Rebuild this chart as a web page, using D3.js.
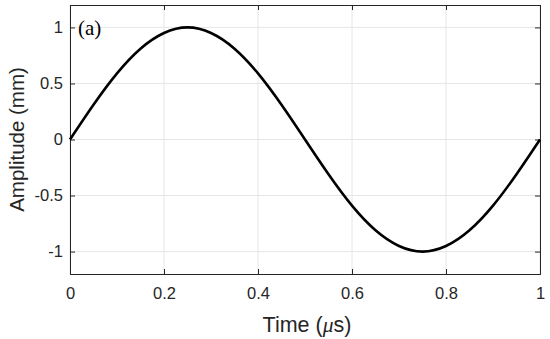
<!DOCTYPE html>
<html>
<head>
<meta charset="utf-8">
<script src="https://cdn.jsdelivr.net/npm/d3@7"></script>
<style>
  body { margin: 0; background: #fff; }
  svg text { font-family: "Liberation Sans", Arial, sans-serif; fill: #262626; }
</style>
</head>
<body>
<div id="chart"></div>
<script>
// values
const times = [0, 0.05, 0.1, 0.15, 0.2, 0.25, 0.3, 0.35, 0.4, 0.45, 0.5,
               0.55, 0.6, 0.65, 0.7, 0.75, 0.8, 0.85, 0.9, 0.95, 1];
const amplitudes = [0, 0.31, 0.59, 0.81, 0.95, 1, 0.95, 0.81, 0.59, 0.31, 0,
                    -0.31, -0.59, -0.81, -0.95, -1, -0.95, -0.81, -0.59, -0.31, 0];
const xTicks = [0, 0.2, 0.4, 0.6, 0.8, 1];
const yTicks = [-1, -0.5, 0, 0.5, 1];

const w = 550, h = 339;
const mLeft = 70, mRight = 540, mTop = 5, mBottom = 274;

const x = d3.scaleLinear().domain([0, 1]).range([mLeft, mRight]);
const y = d3.scaleLinear().domain([-1.2, 1.2]).range([mBottom, mTop]);

const svg = d3.select("#chart").append("svg")
  .attr("width", w)
  .attr("height", h);

// grid
svg.append("g")
  .selectAll("line")
  .data(xTicks)
  .enter().append("line")
  .attr("x1", d => x(d)).attr("x2", d => x(d))
  .attr("y1", mTop).attr("y2", mBottom)
  .attr("stroke", "#e6e6e6").attr("stroke-width", 1);

svg.append("g")
  .selectAll("line")
  .data(yTicks)
  .enter().append("line")
  .attr("x1", mLeft).attr("x2", mRight)
  .attr("y1", d => y(d)).attr("y2", d => y(d))
  .attr("stroke", "#e6e6e6").attr("stroke-width", 1);

// axes with inward ticks, plain hyphen for negatives like the original
const fmt = d => String(d);
const xAxis = d3.axisBottom(x).tickValues(xTicks).tickFormat(fmt).tickSize(-5).tickPadding(13);
const yAxis = d3.axisLeft(y).tickValues(yTicks).tickFormat(fmt).tickSize(-5).tickPadding(7);
const xAxisTop = d3.axisTop(x).tickValues(xTicks).tickFormat("").tickSize(-5);
const yAxisRight = d3.axisRight(y).tickValues(yTicks).tickFormat("").tickSize(-5);

function style(g) {
  g.attr("font-size", null).attr("font-family", null);
  g.select(".domain").attr("stroke", "#262626").attr("stroke-width", 1);
  g.selectAll(".tick line").attr("stroke", "#262626");
  g.selectAll(".tick text").style("font-size", "16.5px").attr("fill", "#262626");
}

svg.append("g").attr("transform", `translate(0,${mBottom})`).call(xAxis).call(style);
svg.append("g").attr("transform", `translate(${mLeft},0)`).call(yAxis).call(style);
svg.append("g").attr("transform", `translate(0,${mTop})`).call(xAxisTop).call(style);
svg.append("g").attr("transform", `translate(${mRight},0)`).call(yAxisRight).call(style);

// curve
const line = d3.line()
  .x((d, i) => x(times[i]))
  .y(d => y(d))
  .curve(d3.curveNatural);

svg.append("path")
  .datum(amplitudes)
  .attr("d", line)
  .attr("fill", "none")
  .attr("stroke", "#000")
  .attr("stroke-width", 2.6);

// labels
const xl = svg.append("text")
  .attr("x", (mLeft + mRight) / 2 + 2)
  .attr("y", 332)
  .attr("text-anchor", "middle")
  .style("font-size", "21.5px");
xl.append("tspan").text("Time (");
xl.append("tspan").style("font-family", "'Liberation Serif', serif").style("font-style", "italic").text("\u03bc");
xl.append("tspan").text("s)");

svg.append("text")
  .attr("transform", `translate(24, ${(mTop + mBottom) / 2}) rotate(-90)`)
  .attr("text-anchor", "middle")
  .style("font-size", "20.5px")
  .text("Amplitude (mm)");

svg.append("text")
  .attr("x", 78)
  .attr("y", 35)
  .style("font-family", "'Liberation Serif', 'Times New Roman', serif")
  .style("font-size", "21px")
  .style("fill", "#000")
  .text("(a)");
</script>
</body>
</html>
